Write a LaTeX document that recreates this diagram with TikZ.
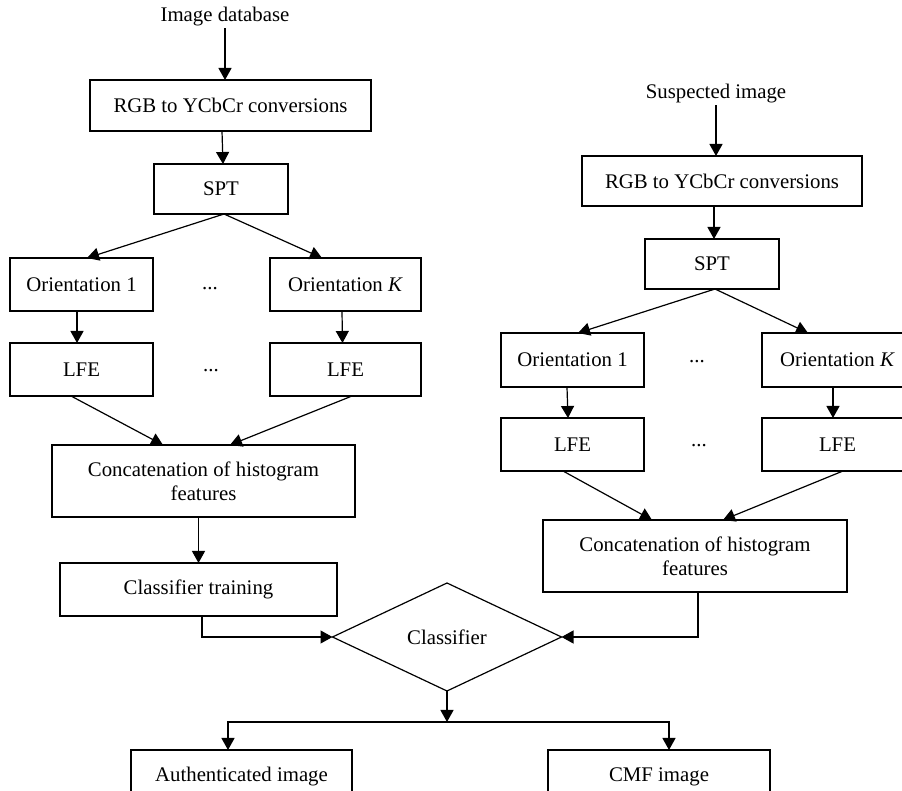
\documentclass[tikz,border=0pt]{standalone}
\usepackage{fontspec}
\setmainfont{Liberation Serif}
\usepackage{tikz}
\usetikzlibrary{arrows.meta,shapes.geometric,calc}
\tikzset{
  blk/.style={draw,line width=0.6pt,inner sep=0pt,outer sep=0pt,align=center,font=\fontsize{10.4pt}{12pt}\selectfont},
  lbl/.style={inner sep=1pt,outer sep=0pt,font=\fontsize{10.4pt}{12pt}\selectfont},
  arr/.style={-{Triangle[length=6pt,width=6.5pt]},line width=0.6pt}
}

\begin{document}
\begin{tikzpicture}[x=0.5pt,y=-0.5pt]
  \useasboundingbox (0,0) rectangle (902,791);
  \clip (0,0) rectangle (902,791);
  % training branch
  \node[lbl] (imgdb) at (225,17) {Image database};
  \node[blk,minimum width=140.5pt,minimum height=25.5pt] (rgbL) at (230.5,105.5) {RGB to YCbCr conversions};
  \node[blk,minimum width=67pt,minimum height=25pt] (sptL) at (221,189) {SPT};
  \node[blk,minimum width=71.5pt,minimum height=26.5pt] (o1L) at (81.5,284.5) {Orientation 1};
  \node[blk,minimum width=75.5pt,minimum height=26.5pt] (okL) at (345.5,284.5) {Orientation \textit{K}};
  \node[blk,minimum width=71.5pt,minimum height=26.5pt] (lfe1L) at (81.5,369.5) {LFE};
  \node[blk,minimum width=75.5pt,minimum height=26.5pt] (lfekL) at (345.5,369.5) {LFE};
  \node[blk,minimum width=151.5pt,minimum height=36pt] (catL) at (203.5,481) {Concatenation of histogram\\features};
  \node[blk,minimum width=138.5pt,minimum height=26.5pt] (trainL) at (198.5,589.5) {Classifier training};
  % test branch
  \node[lbl] (susp) at (716,94) {Suspected image};
  \node[blk,minimum width=140pt,minimum height=25pt] (rgbR) at (722,181) {RGB to YCbCr conversions};
  \node[blk,minimum width=67pt,minimum height=25pt] (sptR) at (712,264) {SPT};
  \node[blk,minimum width=71.5pt,minimum height=27pt] (o1R) at (572.5,360) {Orientation 1};
  \node[blk,minimum width=75.5pt,minimum height=27pt] (okR) at (837.5,360) {Orientation \textit{K}};
  \node[blk,minimum width=71.5pt,minimum height=26.5pt] (lfe1R) at (572.5,444.5) {LFE};
  \node[blk,minimum width=75.5pt,minimum height=26.5pt] (lfekR) at (837.5,444.5) {LFE};
  \node[blk,minimum width=152pt,minimum height=36pt] (catR) at (695,556) {Concatenation of histogram\\features};
  % decision
  \node[blk,diamond,minimum width=114.5pt,minimum height=54pt] (cls) at (447,637) {Classifier};
  \node[blk,minimum width=110.5pt,minimum height=26.5pt] (auth) at (241.5,776.5) {Authenticated image};
  \node[blk,minimum width=111pt,minimum height=26.5pt] (cmf) at (659,776.5) {CMF image};
  \foreach \x/\y [count=\i] in {210/289,211/371,697/362,699/446}
    \node[lbl] (dots\i) at (\x,\y) {...};

  \draw[arr] (imgdb.south) -- (imgdb.south |- rgbL.north);
  \draw[arr] ([xshift=-4.25pt]rgbL.south) -- ([xshift=1pt]sptL.north);
  \draw[arr] ([xshift=1.5pt]sptL.south) -- ([xshift=2.75pt]o1L.north);
  \draw[arr] ([xshift=1.5pt]sptL.south) -- ([xshift=-11.75pt]okL.north);
  \draw[arr] ([xshift=-2.25pt]o1L.south) -- ([xshift=-2.25pt]lfe1L.north);
  \draw[arr] ([xshift=-1.75pt]okL.south) -- ([xshift=-1.5pt]lfekL.north);
  \draw[arr] ([xshift=-5.25pt]lfe1L.south) -- ([xshift=-20.25pt]catL.north);
  \draw[arr] ([xshift=3.25pt]lfekL.south) -- ([xshift=13.25pt]catL.north);
  \draw[arr] (trainL.north |- catL.south) -- (trainL.north);
  \draw[arr] ([xshift=1.75pt]trainL.south) |- (cls.west);

  \draw[arr] (susp.south) -- (susp.south |- rgbR.north);
  \draw[arr] ([xshift=-4pt]rgbR.south) -- ([xshift=1pt]sptR.north);
  \draw[arr] ([xshift=1.5pt]sptR.south) -- ([xshift=2.75pt]o1R.north);
  \draw[arr] ([xshift=1.5pt]sptR.south) -- ([xshift=-14.75pt]okR.north);
  \draw[arr] ([xshift=-2.75pt]o1R.south) -- ([xshift=-2.25pt]lfe1R.north);
  \draw[arr] ([xshift=-2.25pt]okR.south) -- ([xshift=-2.25pt]lfekR.north);
  \draw[arr] ([xshift=-4.75pt]lfe1R.south) -- ([xshift=-21.5pt]catR.north);
  \draw[arr] ([xshift=2.75pt]lfekR.south) -- ([xshift=14pt]catR.north);
  \draw[arr] ([xshift=1.5pt]catR.south) |- (cls.east);

  \coordinate (split) at (447,722);
  \draw[arr] (cls.south) -- (split);
  \draw[arr] (split) -| ([xshift=-6.75pt]auth.north);
  \draw[arr] (split) -| ([xshift=5pt]cmf.north);
\end{tikzpicture}
\end{document}
